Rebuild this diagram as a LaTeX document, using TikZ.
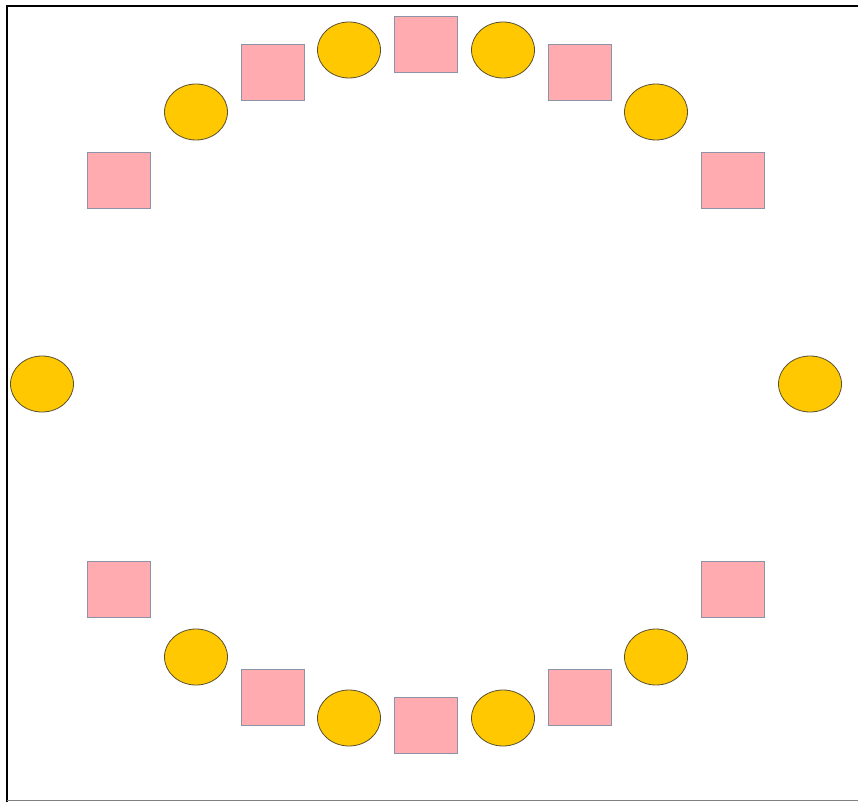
\documentclass[tikz,border=0pt]{standalone}
\usetikzlibrary{shapes.geometric}
\definecolor{tilepink}{HTML}{FFABAF}
\definecolor{tileedge}{HTML}{8A94A6}
\definecolor{seatgold}{HTML}{FFC800}
\definecolor{seatedge}{HTML}{5A5030}
\begin{document}
\begin{tikzpicture}[
	x=1pt, y=-1pt,
	tile/.style={rectangle, draw=tileedge, fill=tilepink, line width=0.8pt,
		minimum width=63pt, minimum height=56pt, inner sep=0pt},
	seat/.style={ellipse, draw=seatedge, fill=seatgold, line width=0.8pt,
		minimum width=63pt, minimum height=56pt, inner sep=0pt},
	]
	\useasboundingbox (0,0) rectangle (858,802);
	% frame
	\draw[line width=2pt] (7,802) -- (7,6) -- (858,6);
	\draw[gray, line width=1pt] (7,800) -- (858,800);

	% tables
	\foreach \x/\y [count=\i] in {426/44, 273/72, 580/72, 119/180, 733/180,
		119/589, 733/589, 273/697, 580/697, 426/725}
		\node[tile] (tile\i) at (\x,\y) {};

	% chairs
	\foreach \x/\y [count=\i] in {349/50, 503/50, 196/112, 656/112, 42/384,
		810/384, 196/657, 656/657, 349/718, 503/718}
		\node[seat] (seat\i) at (\x,\y) {};
\end{tikzpicture}
\end{document}
